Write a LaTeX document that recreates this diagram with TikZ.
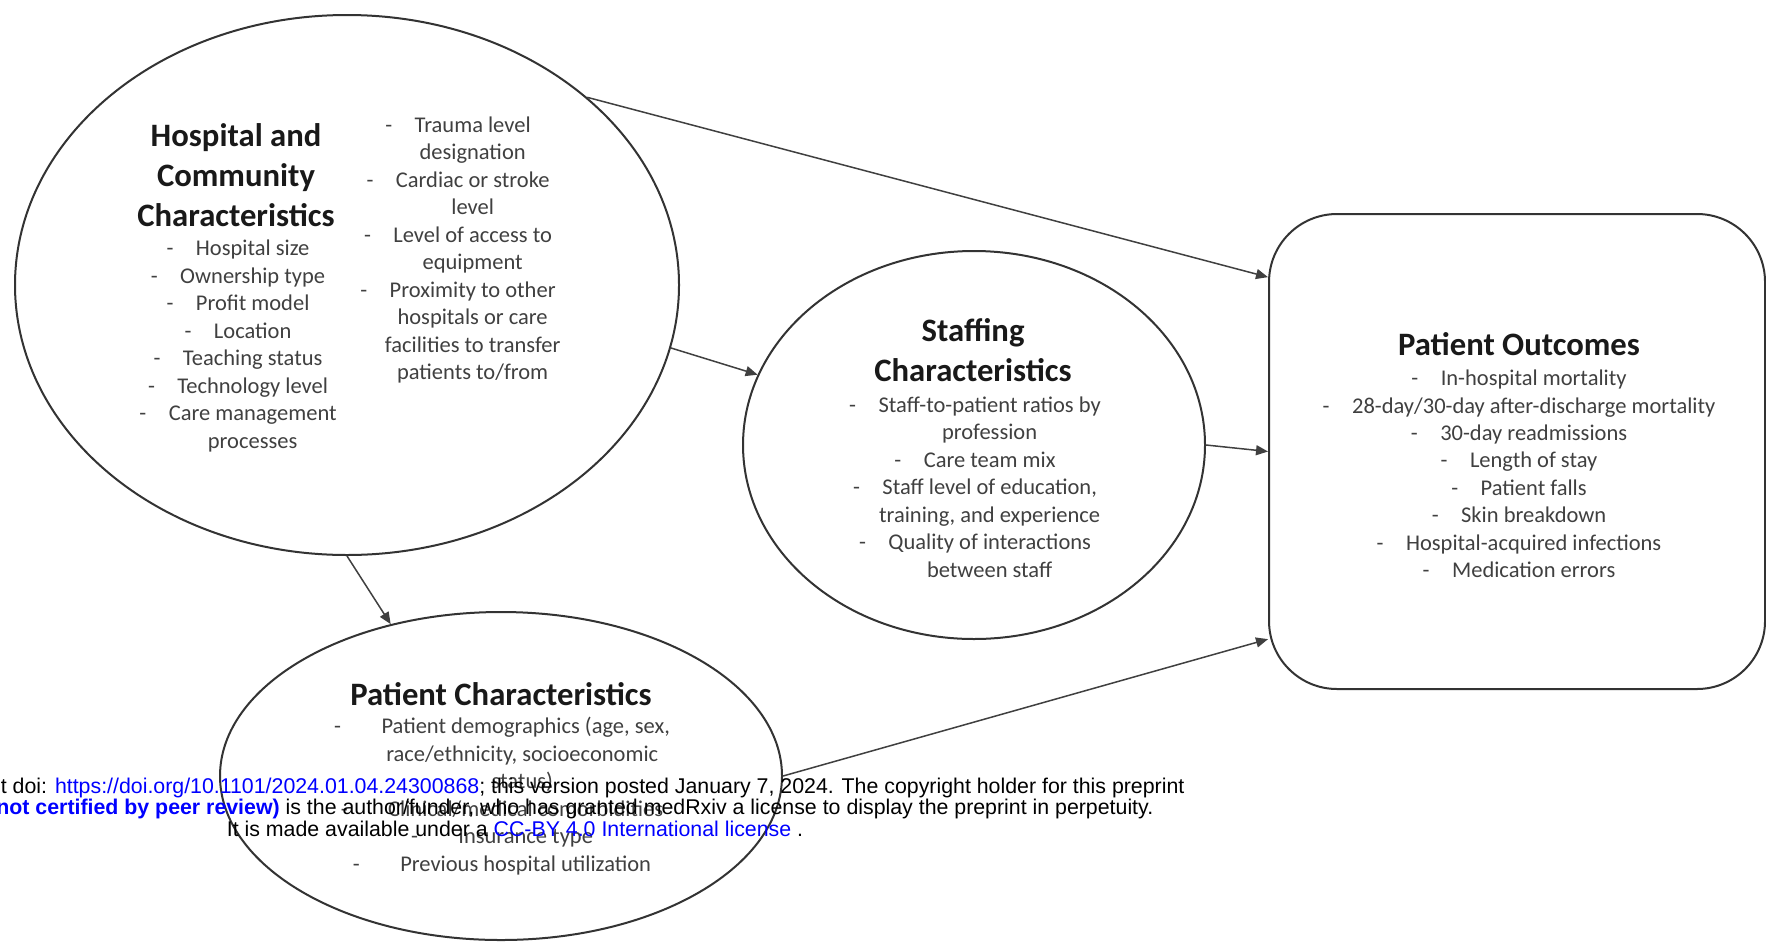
\documentclass[tikz,border=0pt]{standalone}
\usepackage{fontspec}
\setmainfont{Carlito}
\newfontfamily\overlayfont{Liberation Sans}
\usetikzlibrary{arrows.meta,shapes.geometric}
\definecolor{link}{RGB}{0,0,255}
\newcommand{\itm}[2][1em]{-\hspace{#1}#2}
\newcommand{\cont}[2][1.3em]{\hspace*{#1}#2}
\tikzset{
  blob/.style={ellipse,draw=black!80,line width=0.2mm,inner sep=0pt},
  outbox/.style={rectangle,rounded corners=6.8mm,draw=black!80,line width=0.2mm,inner sep=0pt},
  head/.style={font=\fontsize{9.3}{11.3}\selectfont\bfseries,align=center,text=black!90,inner sep=0pt},
  items/.style={font=\fontsize{6.4}{7.82}\selectfont,align=center,text=black!75,inner sep=0pt},
  arr/.style={draw=black!75,line width=0.15mm,-{Triangle[length=1.2mm,width=1mm]}}
}
\begin{document}
\begin{tikzpicture}[x=0.1mm,y=-0.1mm]
\useasboundingbox (0,0) rectangle (1766,943);
\fill[white] (0,0) rectangle (1766,943);
\node[blob,minimum width=66.4mm,minimum height=54mm] (hosp) at (347,285) {};
\node[blob,minimum width=46.2mm,minimum height=38.8mm] (staff) at (974,445) {};
\node[blob,minimum width=56.2mm,minimum height=32.8mm] (pat) at (501,776) {};
\node[outbox,minimum width=49.6mm,minimum height=47.5mm] (out) at (1517,451.5) {};
\node[head] (hospT) at (236,175) {Hospital and\\Community\\Characteristics};
\node[items] (hospL) at (238,346) {\itm{Hospital size}\\\itm{Ownership type}\\\itm{Profit model}\\\itm{Location}\\\itm{Teaching status}\\\itm{Technology level}\\\itm{Care management}\\\cont{processes}};
\node[items] (hospR) at (458,250) {\itm{Trauma level}\\\cont{designation}\\\itm{Cardiac or stroke}\\\cont{level}\\\itm{Level of access to}\\\cont{equipment}\\\itm{Proximity to other}\\\cont{hospitals or care}\\\cont{facilities to transfer}\\\cont{patients to/from}};
\node[head] (staffT) at (973,350) {Staffing\\Characteristics};
\node[items] (staffL) at (975,487) {\itm{Staff-to-patient ratios by}\\\cont{profession}\\\itm{Care team mix}\\\itm{Staff level of education,}\\\cont{training, and experience}\\\itm{Quality of interactions}\\\cont{between staff}};
\node[head] (outT) at (1519,344) {Patient Outcomes};
\node[items] (outL) at (1519,474) {\itm{In-hospital mortality}\\\itm{28-day/30-day after-discharge mortality}\\\itm{30-day readmissions}\\\itm{Length of stay}\\\itm{Patient falls}\\\itm{Skin breakdown}\\\itm{Hospital-acquired infections}\\\itm{Medication errors}};
\node[head] (patT) at (501,694) {Patient Characteristics};
\node[items] (patL) at (502,796) {\itm[1.8em]{Patient demographics (age, sex,}\\\cont[1.8em]{race/ethnicity, socioeconomic}\\\cont[1.8em]{status)}\\\itm[1.8em]{Clinical/medical comorbidities}\\\itm[1.8em]{Insurance type}\\\itm[1.8em]{Previous hospital utilization}};
\draw[arr] (hosp.38.3) -- (out.145.5);
\draw[arr] (hosp.-11.7) -- (staff.162.1);
\draw[arr] (staff.east) -- (out.west);
\draw[arr] (hosp.south) -- (pat.126.9);
\draw[arr] (pat.east) -- (out.217.7);
\node[font=\overlayfont\fontsize{6.07}{6.15}\selectfont,align=center,inner sep=0pt] (note) at (515,807) {medRxiv preprint doi: \textcolor{link}{https://doi.org/10.1101/2024.01.04.24300868}; this version posted January 7, 2024. The copyright holder for this preprint\\\textcolor{link}{\bfseries(which was not certified by peer review)} is the author/funder, who has granted medRxiv a license to display the preprint in perpetuity.\\It is made available under a \textcolor{link}{CC-BY 4.0 International license} .};
\end{tikzpicture}
\end{document}
